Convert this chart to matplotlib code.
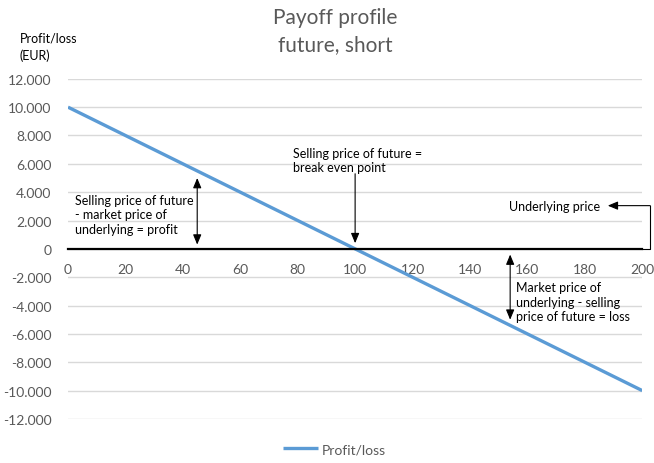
import matplotlib
matplotlib.use("Agg")
import matplotlib.pyplot as plt
from matplotlib.ticker import FuncFormatter, MultipleLocator

plt.rcParams["font.family"] = ["Lato", "DejaVu Sans"]

# data
prices = [0, 20, 40, 60, 80, 100, 120, 140, 160, 180, 200]
payoff = [10000, 8000, 6000, 4000, 2000, 0, -2000, -4000, -6000, -8000, -10000]
series_name = "Profit/loss"
title = "Payoff profile\nfuture, short"
y_label = "Profit/loss\n(EUR)"

txt_profit = "Selling price of future\n- market price of\nunderlying = profit"
txt_even = "Selling price of future =\nbreak even point"
txt_under = "Underlying price"
txt_loss = "Market price of\nunderlying - selling\nprice of future = loss"

GRAY = "#595959"
BLUE = "#5B9BD5"

fig = plt.figure(figsize=(6.54, 4.64), dpi=100)
ax = fig.add_axes([0.104, 0.095, 0.878, 0.733])

ax.plot(prices, payoff, color=BLUE, lw=2.4, label=series_name, solid_capstyle="butt")

ax.set_xlim(0, 200)
ax.set_ylim(-12000, 12000)
ax.yaxis.set_major_locator(MultipleLocator(2000))
ax.yaxis.set_major_formatter(FuncFormatter(lambda v, p: f"{v:,.0f}".replace(",", ".")))
ax.set_xticks(range(0, 201, 20))
ax.set_xticks(range(0, 201, 40), minor=True)
ax.grid(axis="y", which="major", color="#D9D9D9", lw=1.0)
ax.set_axisbelow(True)

for s in ["top", "right", "left"]:
    ax.spines[s].set_visible(False)
ax.spines["bottom"].set_position(("data", 0))
ax.spines["bottom"].set_color("black")
ax.spines["bottom"].set_linewidth(1.6)

ax.tick_params(axis="y", length=0, labelsize=10, labelcolor=GRAY, pad=12)
ax.tick_params(axis="x", which="major", length=0, labelsize=10, labelcolor=GRAY, pad=10)
ax.tick_params(axis="x", which="minor", direction="in", length=4, width=1.2, color="black")

fig.text(0.512, 0.982, title, ha="center", va="top", fontsize=15, color=GRAY, linespacing=1.4)
fig.text(0.03, 0.93, y_label, ha="left", va="top", fontsize=9, color="black", linespacing=1.5)

arrow = dict(arrowstyle="<|-|>,head_length=0.6,head_width=0.25", color="black", lw=0.8,
             shrinkA=0, shrinkB=0)
ax.text(2.5, 3900, txt_profit, fontsize=9, va="top", ha="left", linespacing=1.25)
ax.annotate("", xy=(45, 5000), xytext=(45, 300), arrowprops=arrow)

ax.text(78.5, 7200, txt_even, fontsize=9, va="top", ha="left", linespacing=1.25)
ax.annotate("", xy=(100, 400), xytext=(100, 5300),
            arrowprops=dict(arrowstyle="-|>,head_length=0.6,head_width=0.25", color="black",
                            lw=0.8, shrinkA=0, shrinkB=0))

ax.text(156, -2300, txt_loss, fontsize=9, va="top", ha="left", linespacing=1.25)
ax.annotate("", xy=(154, -400), xytext=(154, -5000), arrowprops=arrow)

ax.text(185.5, 3050, txt_under, fontsize=9, va="center", ha="right")
ax.plot([200, 202.8, 202.8], [0, 0, 3050], color="black", lw=0.8, clip_on=False)
ax.annotate("", xy=(188, 3050), xytext=(202.8, 3050),
            arrowprops=dict(arrowstyle="-|>,head_length=0.6,head_width=0.25", color="black",
                            lw=0.8, shrinkA=0, shrinkB=0), annotation_clip=False)

fig.legend(loc="lower center", bbox_to_anchor=(0.512, -0.01), frameon=False, fontsize=10,
           labelcolor=GRAY, handlelength=2.5, handletextpad=0.3)

fig.savefig("out.png", dpi=100)
